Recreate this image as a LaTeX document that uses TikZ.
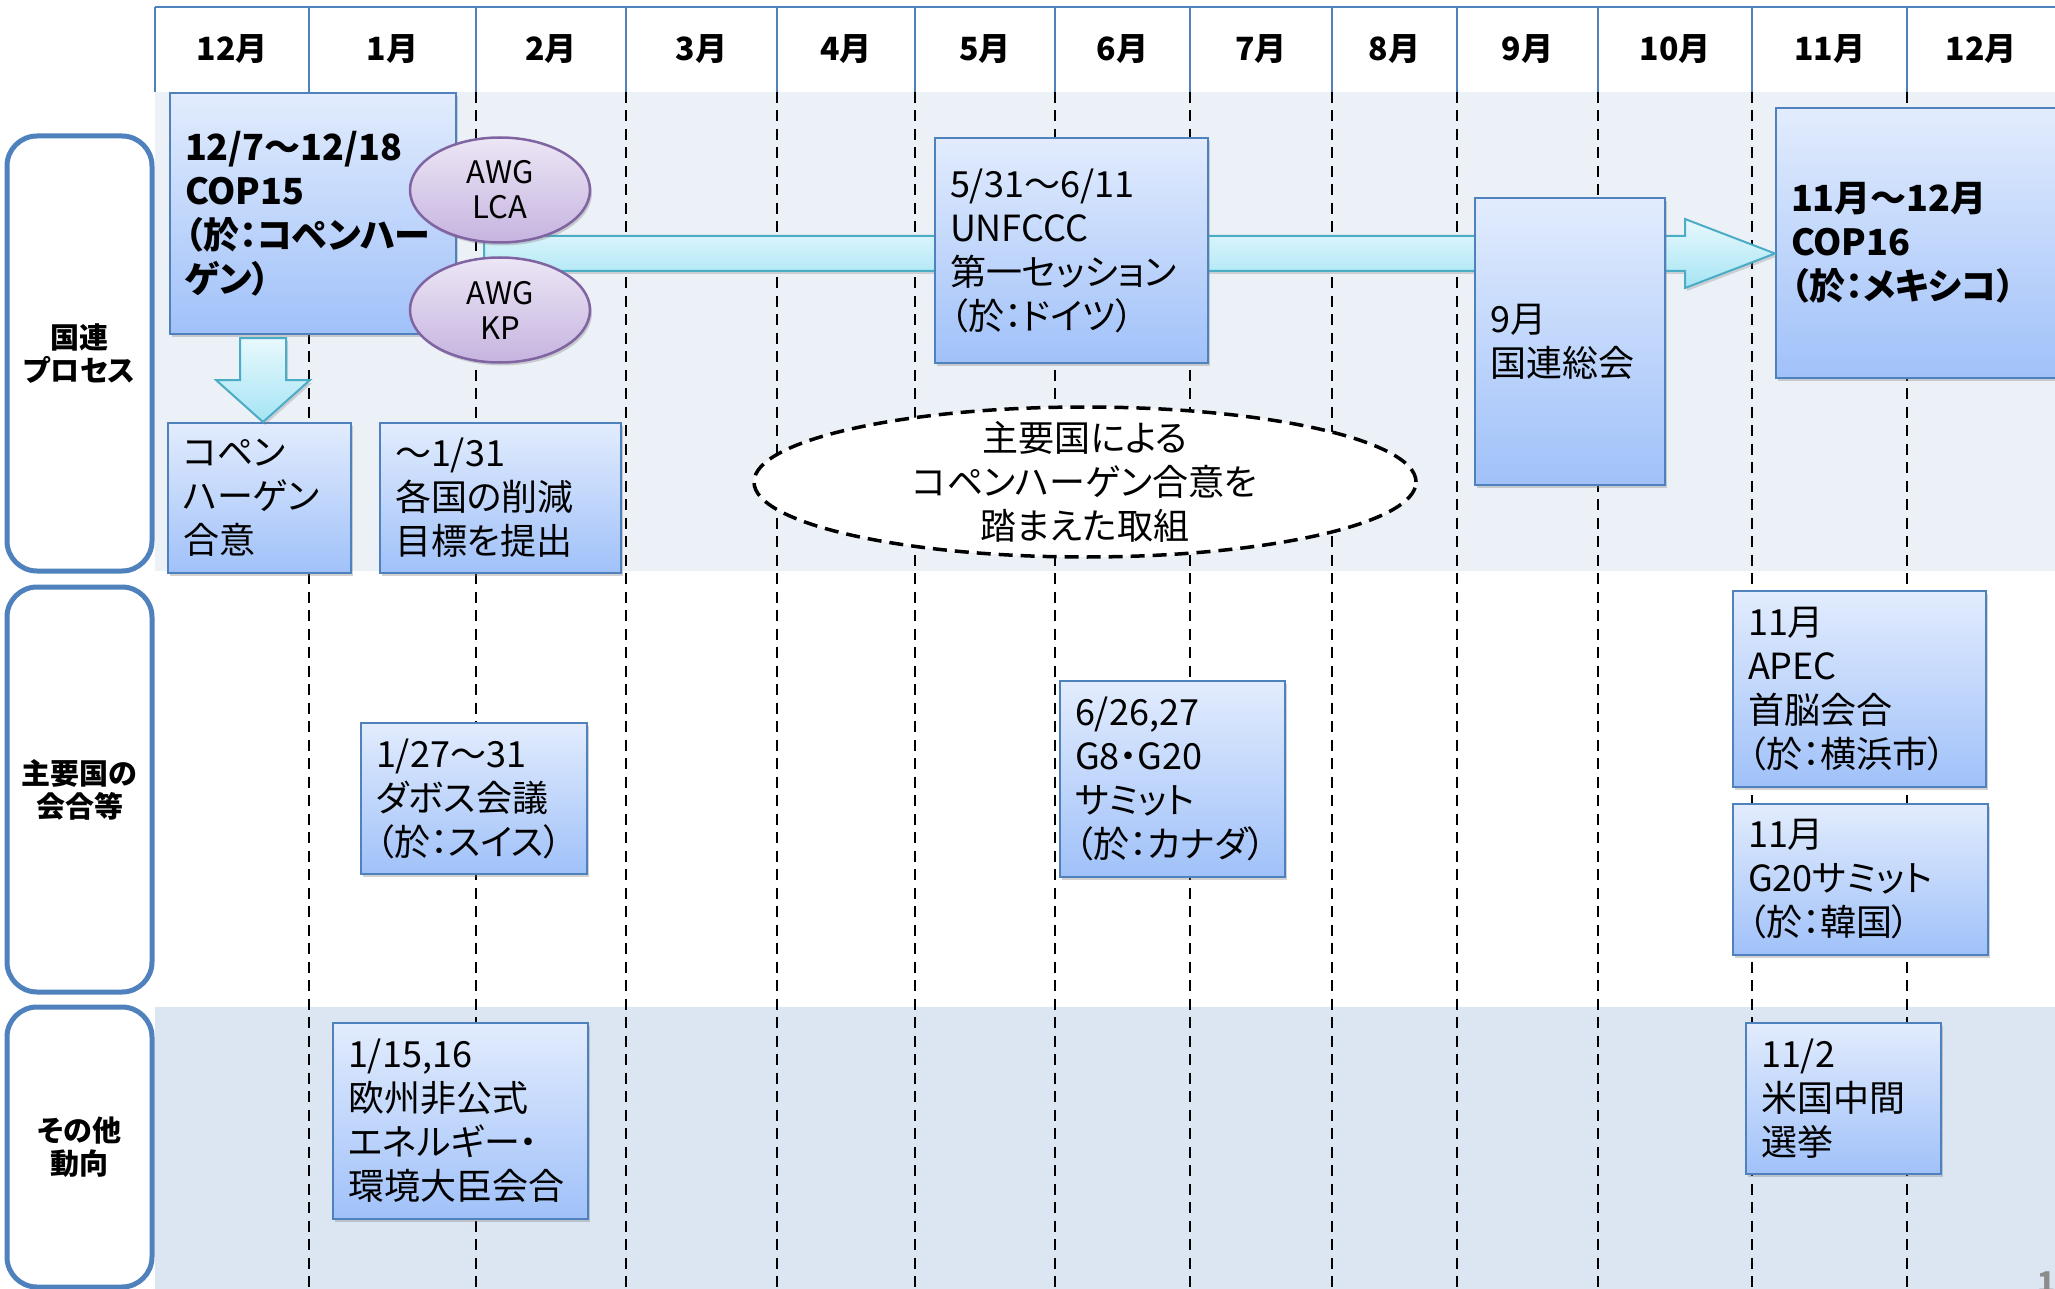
\documentclass[tikz,border=0pt]{standalone}
\usepackage{fontspec}
\setmainfont{Noto Sans CJK JP}[RawFeature=+palt]
\usetikzlibrary{shapes.geometric,shadows,calc}
\definecolor{ofblue}{RGB}{79,129,189}
\definecolor{evtop}{RGB}{226,236,253}
\definecolor{evbot}{RGB}{160,193,249}
\definecolor{bandA}{RGB}{236,241,248}
\definecolor{bandC}{RGB}{220,230,242}
\definecolor{awgline}{RGB}{128,100,162}
\definecolor{awgtop}{RGB}{236,230,245}
\definecolor{awgbot}{RGB}{198,180,224}
\definecolor{arrline}{RGB}{75,172,198}
\definecolor{arrtop}{RGB}{232,249,253}
\definecolor{arrbot}{RGB}{165,228,244}
\definecolor{pggray}{RGB}{140,140,140}
\newcommand\evfont{\fontsize{36}{44}\selectfont}
\newcommand\monfont{\fontsize{32}{36}\selectfont\bfseries}
\newcommand\catfont{\fontsize{29}{33}\selectfont\bfseries}
\newcommand\awgfont{\fontsize{31}{35}\selectfont}
\tikzset{
  evbox/.style={draw=ofblue, line width=2pt, top color=evtop, bottom color=evbot,
    anchor=north west, align=left, inner xsep=15pt, inner ysep=0pt, font=\evfont,
    drop shadow={shadow xshift=2pt, shadow yshift=-3pt, opacity=0.35}},
  catbox/.style={draw=ofblue, line width=5pt, rounded corners=30pt, fill=white,
    minimum width=145pt, inner sep=0pt, align=center, font=\catfont},
  awg/.style={ellipse, draw=awgline, line width=2.5pt, top color=awgtop, bottom color=awgbot,
    minimum width=180pt, minimum height=105pt, inner sep=0pt, align=center, font=\awgfont,
    drop shadow={shadow xshift=2pt, shadow yshift=-3pt, opacity=0.35}},
  blockarrow/.style={draw=arrline, line width=2pt, top color=arrtop, bottom color=arrbot,
    line join=miter, drop shadow={shadow xshift=2pt, shadow yshift=-3pt, opacity=0.3}},
  plan/.style={ellipse, draw=black, fill=white, line width=3.5pt, dash pattern=on 14pt off 8pt,
    minimum width=662pt, minimum height=150pt, inner sep=0pt},
  monthline/.style={black, line width=2.7pt, dash pattern=on 11pt off 7.5pt},
  hdrline/.style={ofblue, line width=2pt},
  month/.style={font=\monfont, inner sep=0pt}
}
\begin{document}
\begin{tikzpicture}[x=1pt,y=-1pt]
  \useasboundingbox (0,0) rectangle (2055,1289);
  \fill[white] (0,0) rectangle (2055,1289);
  % bands
  \fill[bandA] (155,92) rectangle (2055,571);
  \fill[bandC] (155,1007) rectangle (2055,1289);
  % month grid
  \foreach \x in {309,476,626,777,915,1055,1190,1332,1457,1598,1752,1907}
    \draw[monthline] (\x,92) -- (\x,1289);
  \draw[hdrline] (155,7) -- (2055,7);
  \foreach \a/\b/\mname [count=\i] in {155/309/12月,309/476/1月,476/626/2月,626/777/3月,
      777/915/4月,915/1055/5月,1055/1190/6月,1190/1332/7月,1332/1457/8月,1457/1598/9月,
      1598/1752/10月,1752/1907/11月,1907/2055/12月}{
    \draw[hdrline] (\a,7) -- (\a,92);
    \node[month] (mon\i) at ({(\a+\b)/2},49) {\mname};
  }
  % row titles
  \node[catbox, minimum height=435pt] (catun) at (79.5,353.5) {国連\\プロセス};
  \node[catbox, minimum height=405pt] (catmajor) at (79.5,789.5) {主要国の\\会合等};
  \node[catbox, minimum height=280pt] (catother) at (79.5,1147) {その他\\動向};
  % UN process
  \node[evbox, font=\evfont\bfseries, text width=256pt, minimum height=241pt] (cop15) at (169,92)
    {12/7〜12/18\\COP15\\（於：コペンハー\\ゲン）};
  \node[evbox, font=\evfont\bfseries, text width=270pt, minimum height=270pt] (cop16) at (1775,107)
    {11月〜12月\\COP16\\（於：メキシコ）};
  \coordinate (arrS) at (484,253.5);
  \coordinate (arrT) at (cop16.west |- arrS);
  \draw[blockarrow] ($(arrS)+(0,-17.5)$) -- ($(arrT)+(-90,-17.5)$) -- ($(arrT)+(-90,-34.5)$)
    -- (arrT) -- ($(arrT)+(-90,34.5)$) -- ($(arrT)+(-90,17.5)$) -- ($(arrS)+(0,17.5)$) -- cycle;
  \node[awg] (lca) at (500,190) {AWG\\LCA};
  \node[awg] (kp) at (500,310) {AWG\\KP};
  \node[evbox, text width=243pt, minimum height=225pt] (unfccc) at (934,137)
    {5/31〜6/11\\UNFCCC\\第一セッション\\（於：ドイツ）};
  \node[evbox, text width=160pt, minimum height=287pt] (unga) at (1474,197) {9月\\国連総会};
  \node[evbox, text width=153pt, minimum height=150pt] (copen) at (167,422) {コペン\\ハーゲン\\合意};
  \node[evbox, text width=211pt, minimum height=150pt] (target) at (379,422) {〜1/31\\各国の削減\\目標を提出};
  \coordinate (dnS) at (263,338);
  \coordinate (dnT) at (dnS |- copen.north);
  \draw[blockarrow] ($(dnS)+(-23,0)$) -- ($(dnS)+(23,0)$) -- ($(dnS)+(23,42)$) -- ($(dnS)+(47,42)$)
    -- (dnT) -- ($(dnS)+(-47,42)$) -- ($(dnS)+(-23,42)$) -- cycle;
  \node[plan] (efforts) at (1085,482) {};
  \node[align=center, font=\evfont, inner sep=0pt] (effortstxt) at (efforts.center)
    {主要国による\\コペンハーゲン合意を\\踏まえた取組};
  % major countries
  \node[evbox, text width=196pt, minimum height=151pt] (davos) at (360,722) {1/27〜31\\ダボス会議\\（於：スイス）};
  \node[evbox, text width=195pt, minimum height=196pt] (gsummit) at (1059,680)
    {6/26,27\\G8・G20\\サミット\\（於：カナダ）};
  \node[evbox, text width=223pt, minimum height=196pt] (apec) at (1732,590)
    {11月\\APEC\\首脳会合\\（於：横浜市）};
  \node[evbox, text width=225pt, minimum height=151pt] (gkorea) at (1732,803)
    {11月\\G20サミット\\（於：韓国）};
  % others
  \node[evbox, text width=225pt, minimum height=196pt] (eumeet) at (332,1022)
    {1/15,16\\欧州非公式\\エネルギー・\\環境大臣会合};
  \node[evbox, text width=165pt, minimum height=151pt] (midterm) at (1745,1022) {11/2\\米国中間\\選挙};
  \node[anchor=north west, inner sep=0pt, text=pggray, font=\fontsize{30}{30}\selectfont\bfseries] (pgno)
    at (2037,1272) {1};
\end{tikzpicture}
\end{document}
